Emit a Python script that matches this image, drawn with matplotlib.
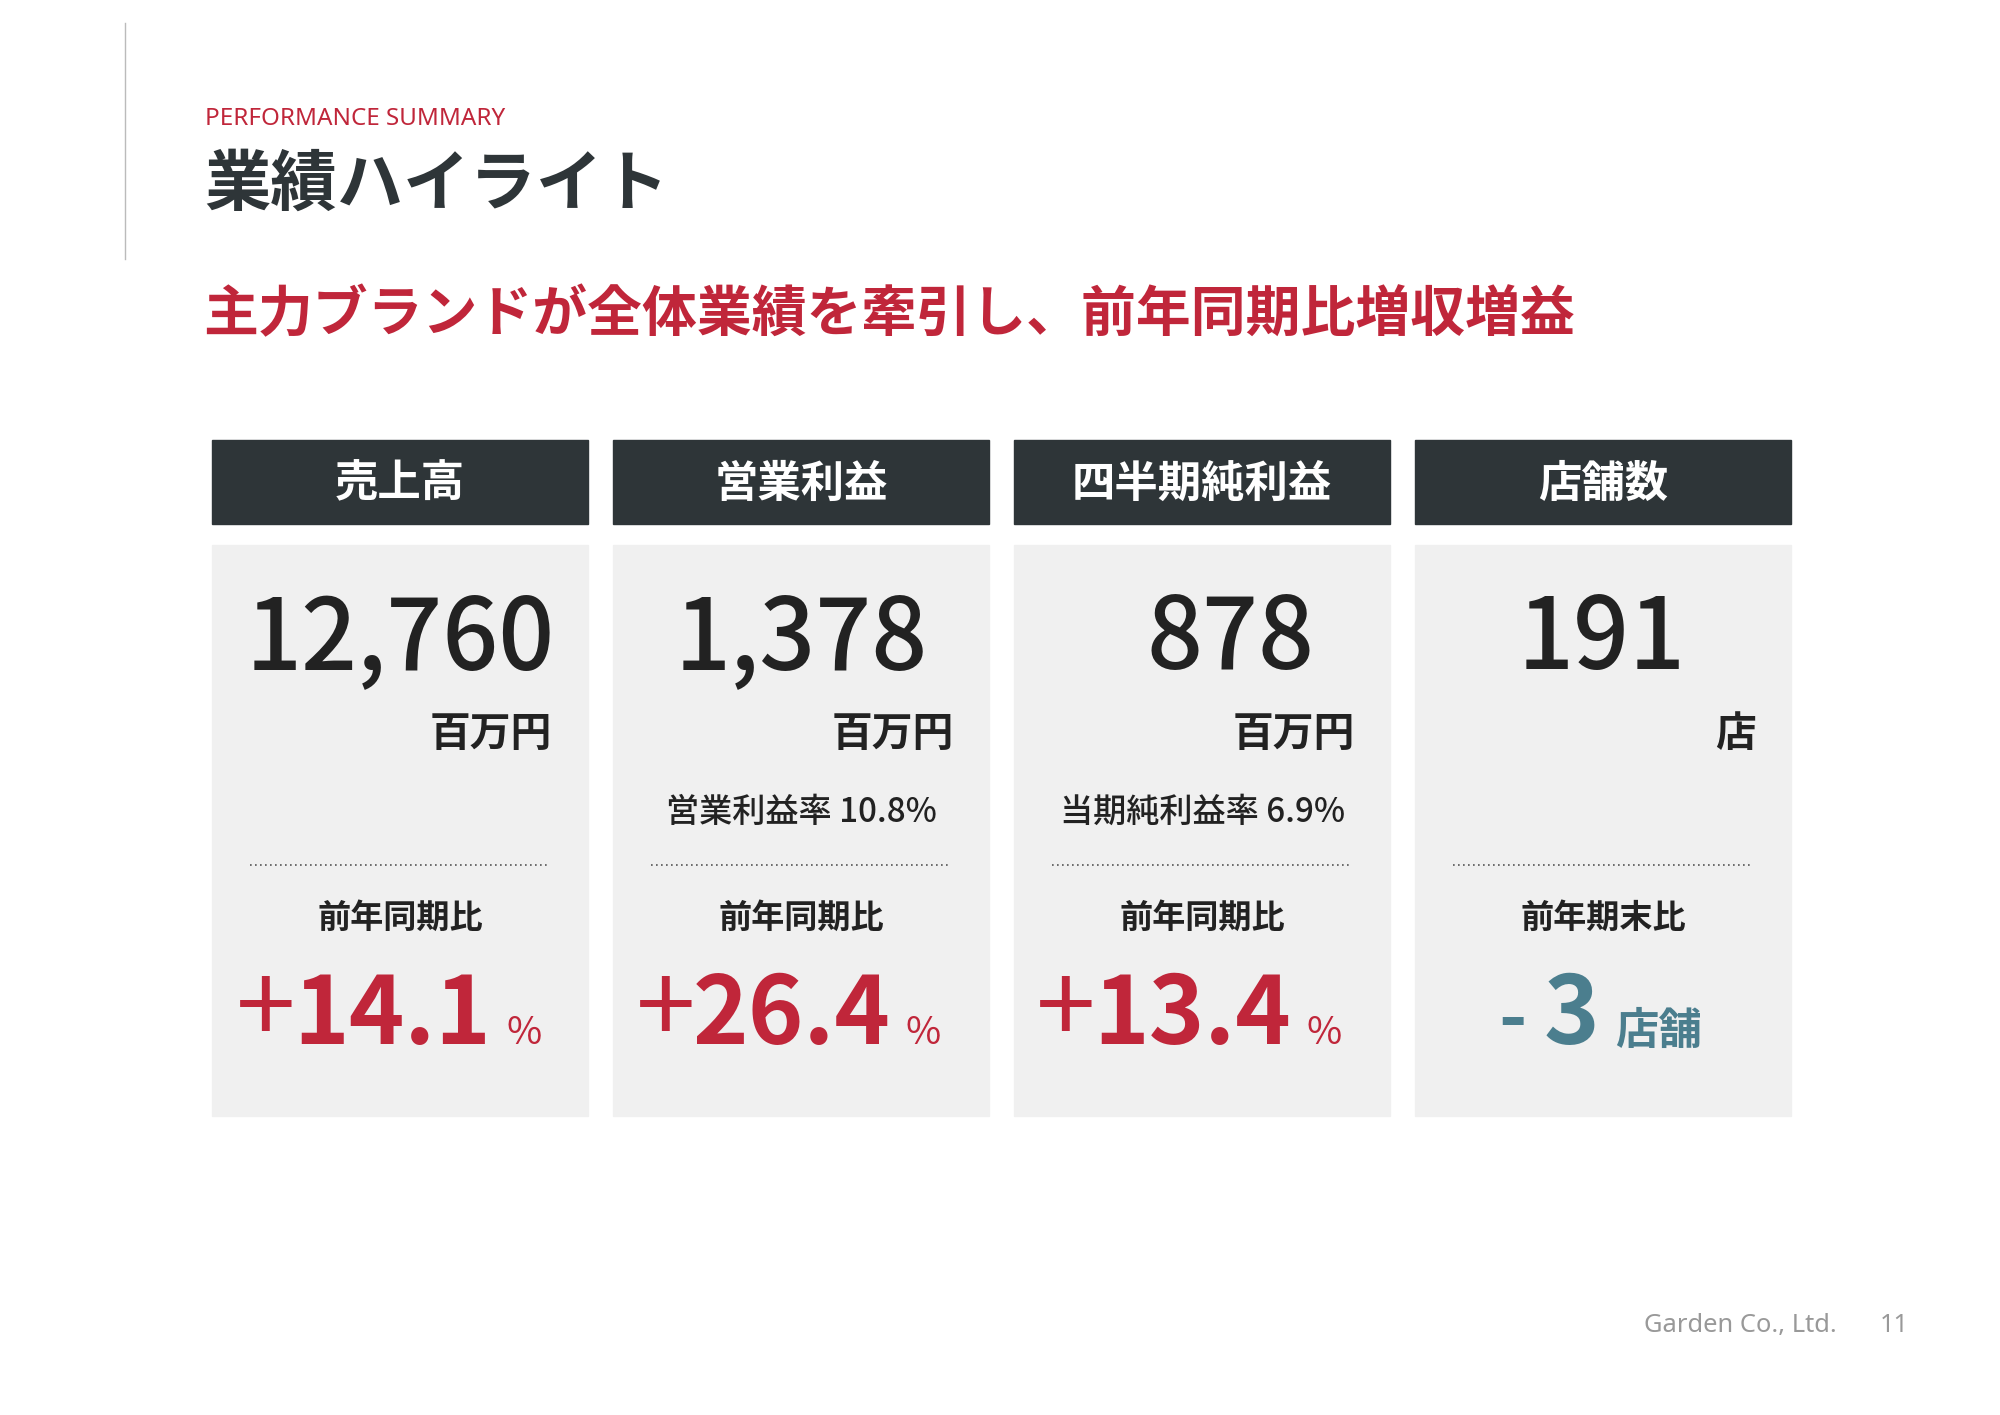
import matplotlib.pyplot as plt
from matplotlib.patches import Rectangle

plt.rcParams["font.family"] = "Noto Sans CJK JP"

titles = ["売上高", "営業利益", "四半期純利益", "店舗数"]
values = ["12,760", "1,378", "878", "191"]
units = ["百万円", "百万円", "百万円", "店"]
notes = ["", "営業利益率 10.8%", "当期純利益率 6.9%", ""]
compare = ["前年同期比", "前年同期比", "前年同期比", "前年期末比"]
signs = ["+", "+", "+", "-"]
changes = ["14.1", "26.4", "13.4", "3"]
change_units = ["%", "%", "%", "店舗"]

RED = "#c0263a"
DARK = "#2e3538"
TEAL = "#4b7e8e"
W, H = 1568, 1109

def fs(px):
    return px * (2000 / W) * 0.72

fig = plt.figure(figsize=(20, 14.15), dpi=100)
ax = fig.add_axes([0, 0, 1, 1])
ax.set_xlim(0, W), ax.set_ylim(H, 0), ax.axis("off")

ax.plot([98, 98], [18, 203], color="#bbbbbb", lw=1)
ax.text(161, 93, "PERFORMANCE SUMMARY", color=RED, fontsize=fs(19), va="center",
        family="Noto Sans", weight="medium")
ax.text(160, 145, "業績ハイライト", color=DARK, fontsize=fs(52), va="center", weight="bold")
ax.text(159, 247, "主力ブランドが全体業績を牽引し、前年同期比増収増益", color=RED,
        fontsize=fs(43), va="center", weight="bold")

num_x = [314, 628, 965, 1256]
chg_end = [385, 698, 1012, 1254]
for i in range(4):
    x0 = 166 + i * 314.5
    x1 = x0 + 295
    cx = (x0 + x1) / 2
    ax.add_patch(Rectangle((x0, 345), 295, 66, color=DARK))
    ax.text(cx, 379, titles[i], color="white", fontsize=fs(34), ha="center", va="center",
            weight="bold")
    ax.add_patch(Rectangle((x0, 427), 295, 448, color="#f0f0f0"))
    ax.text(num_x[i], 502, values[i], color="#222222", fontsize=fs(77), ha="center",
            va="center", weight="medium")
    ax.text(x1 - 28, 575, units[i], color="#222222", fontsize=fs(32), ha="right",
            va="center", weight="bold")
    if notes[i]:
        ax.text(cx, 637, notes[i], color="#222222", fontsize=fs(26), ha="center",
                va="center", weight="medium")
    ax.plot([x0 + 30, x1 - 30], [678, 678], color="#555555", lw=1.2, ls=(0, (1, 2)))
    ax.text(cx, 720, compare[i], color="#222222", fontsize=fs(26), ha="center",
            va="center", weight="bold")
    col = TEAL if signs[i] == "-" else RED
    t = ax.text(chg_end[i], 818, changes[i], color=col, fontsize=fs(74), ha="right",
                va="baseline", weight="bold")
    fig.canvas.draw()
    bb = t.get_window_extent().transformed(ax.transData.inverted())
    left = min(bb.x0, bb.x1)
    if signs[i] == "+":
        ax.text(left + 2, 794, "+", color=col, fontsize=fs(84), ha="right",
                va="center", weight="regular")
    else:
        ax.text(left - 14, 800, "-", color=col, fontsize=fs(60), ha="right",
                va="center", weight="bold")
    ax.text(chg_end[i] + 12, 818, change_units[i], color=col,
            fontsize=fs(34 if change_units[i] != "%" else 30), ha="left", va="baseline",
            weight="bold" if change_units[i] != "%" else "normal")

ax.text(1440, 1039, "Garden Co., Ltd.", color="#999999", fontsize=fs(20), ha="right",
        va="center", family="Noto Sans")
ax.text(1485, 1039, "11", color="#999999", fontsize=fs(20), ha="center", va="center",
        family="Noto Sans")

fig.savefig("out.png")
